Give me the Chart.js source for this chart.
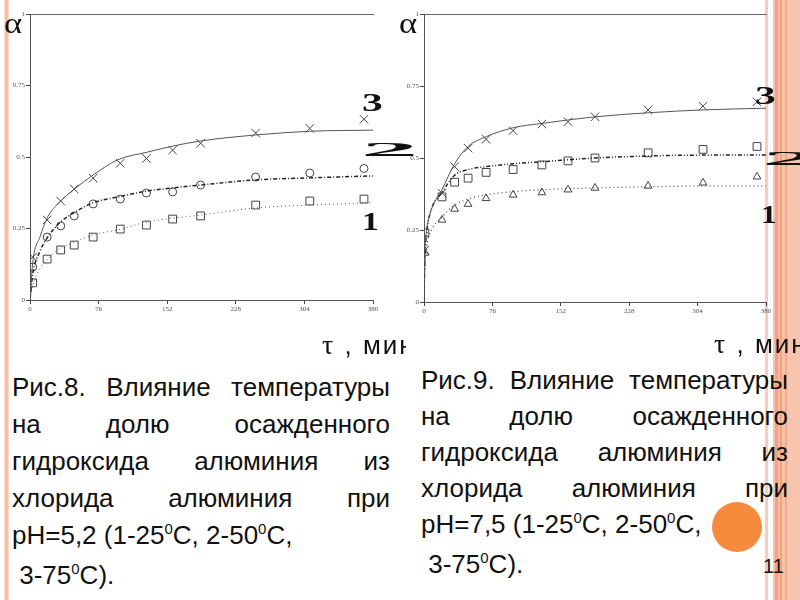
<!DOCTYPE html>
<html>
<head>
<meta charset="utf-8">
<script src="https://cdn.jsdelivr.net/npm/chart.js@4.4.0/dist/chart.umd.min.js"></script>
<style>
body { margin: 0; width: 800px; height: 600px; position: relative; overflow: hidden; background: #fff;
       font-family: "Liberation Sans", Arial, sans-serif; color: #111; }
.abs { position: absolute; }
.stripeL { left: 4px; top: 0; width: 5px; height: 600px;
           background: linear-gradient(to right, #fde2d6, #f5b397 50%, #fde2d6); }
.stripeR { left: 765px; top: 0; width: 35px; height: 600px;
           background: linear-gradient(to right,
             #f9cbb8 0, #f9cbb8 3px, #fff 3px, #fff 8px, #f8c2ab 8px, #f8c2ab 10px,
             #f2a27f 10px, #f2a27f 13px, #f7bba2 13px, #f7bba2 15px, #f2a27f 15px, #f2a27f 17px,
             #f8c2ab 17px, #f8c2ab 20px, #f3a886 20px, #f3a886 22px, #f8c4ad 22px, #f8c4ad 35px); }
.plot { top: 0; width: 400px; height: 330px; }
.alpha { font-family: "Liberation Serif", serif; font-size: 30px; line-height: 30px;
         transform: scaleX(1.15); transform-origin: left top; }
.tau { font-size: 26px; line-height: 26px; letter-spacing: 2px; white-space: nowrap; }
.tau i { font-family: "Liberation Serif", serif; font-style: normal; font-size: 28px; }
.num { font-family: "Liberation Serif", serif; font-weight: bold; font-size: 26px; line-height: 26px;
       transform-origin: left top; }
.cap { font-size: 26px; }
.cap div { white-space: nowrap; }
.cap .j { text-align: justify; text-align-last: justify; white-space: normal; }
.deg { font-size: 15px; position: relative; top: -10px; }
.dot { left: 712px; top: 502px; width: 50px; height: 50px; border-radius: 50%; background: #f68b3d; }
</style>
</head>
<body>
<div class="abs stripeL"></div>
<div class="abs stripeR"></div>

<div class="abs plot" style="left:0"><canvas id="fig8" width="400" height="330"></canvas></div>
<div class="abs plot" style="left:400px"><canvas id="fig9" width="400" height="330"></canvas></div>

<div class="abs alpha" style="left:4px;top:8px">α</div>
<div class="abs alpha" style="left:399px;top:8px">α</div>

<div class="abs" style="left:300px;top:328px;width:106px;height:32px;overflow:hidden">
  <div class="abs tau" style="left:22px;top:4px"><i>τ</i> , мин</div>
</div>
<div class="abs tau" style="left:714px;top:331px"><i>τ</i> , мин</div>

<div class="abs num" style="left:362px;top:90px;transform:scaleX(1.6)">3</div>
<div class="abs num" style="left:361px;top:140px;transform:scaleX(4.4) scaleY(0.75)">2</div>
<div class="abs num" style="left:362px;top:209px;transform:scaleX(1.3)">1</div>
<div class="abs num" style="left:755px;top:83px;transform:scaleX(1.6)">3</div>
<div class="abs" style="left:760px;top:140px;width:40px;height:40px;overflow:hidden">
  <div class="abs num" style="left:2px;top:9px;transform:scaleX(4.4) scaleY(0.75)">2</div>
</div>
<div class="abs num" style="left:761px;top:202px;transform:scaleX(1.2)">1</div>

<div class="abs cap" style="left:12px;top:369px;width:378px;line-height:37px">
  <div class="j">Рис.8. Влияние температуры</div>
  <div class="j">на долю осажденного</div>
  <div class="j">гидроксида алюминия из</div>
  <div class="j">хлорида алюминия при</div>
  <div>pH=5,2 (1-25<span class="deg">0</span>C, 2-50<span class="deg">0</span>C,</div>
  <div>&nbsp;3-75<span class="deg">0</span>C).</div>
</div>

<div class="abs dot"></div>

<div class="abs cap" style="left:421px;top:362px;width:367px;line-height:36px">
  <div class="j">Рис.9. Влияние температуры</div>
  <div class="j">на долю осажденного</div>
  <div class="j">гидроксида алюминия из</div>
  <div class="j">хлорида алюминия при</div>
  <div>pH=7,5 (1-25<span class="deg">0</span>C, 2-50<span class="deg">0</span>C,</div>
  <div>&nbsp;3-75<span class="deg">0</span>C).</div>
</div>

<div class="abs" style="left:763px;top:555px;font-size:20px">11</div>

<script>
// axis ticks
const xTicks = [0, 76, 152, 228, 304, 380];
const yTicks = [0, 0.25, 0.5, 0.75, 1];

// Fig. 8 (pH=5,2): measured points
const fig8Time = [3, 19, 34, 49, 70, 100, 129, 158, 189, 250, 310, 370];
const fig8Pts1 = [0.06, 0.143, 0.175, 0.192, 0.22, 0.248, 0.262, 0.283, 0.294, 0.332, 0.346, 0.353];
const fig8Pts2 = [0.115, 0.22, 0.259, 0.294, 0.336, 0.353, 0.374, 0.378, 0.402, 0.43, 0.444, 0.46];
const fig8Pts3 = [0.15, 0.28, 0.346, 0.388, 0.426, 0.478, 0.495, 0.524, 0.548, 0.584, 0.6, 0.632];
// Fig. 8: fitted curves
const fig8CurveTime = [0, 3, 11, 19, 33, 48, 70, 97, 130, 158, 189, 250, 310, 380];
const fig8Curve1 = [0, 0.05, 0.11, 0.14, 0.18, 0.2, 0.228, 0.245, 0.273, 0.286, 0.297, 0.322, 0.332, 0.34];
const fig8Curve2 = [0, 0.09, 0.17, 0.217, 0.27, 0.304, 0.34, 0.36, 0.381, 0.392, 0.402, 0.42, 0.427, 0.434];
const fig8Curve3 = [0, 0.13, 0.22, 0.287, 0.343, 0.385, 0.437, 0.49, 0.517, 0.538, 0.556, 0.577, 0.59, 0.594];

// Fig. 9 (pH=7,5): measured points
const fig9Time = [1, 20, 34, 49, 69, 99, 131, 160, 190, 249, 310, 370];
const fig9Pts1 = [0.17, 0.285, 0.323, 0.34, 0.36, 0.372, 0.38, 0.39, 0.396, 0.403, 0.414, 0.435];
const fig9Pts2 = [0.24, 0.365, 0.416, 0.43, 0.45, 0.46, 0.476, 0.49, 0.5, 0.518, 0.53, 0.54];
const fig9Pts3 = [0.18, 0.378, 0.47, 0.534, 0.565, 0.595, 0.618, 0.626, 0.643, 0.667, 0.68, 0.695];
// Fig. 9: fitted curves
const fig9CurveTime = [0, 1, 3, 7, 20, 34, 49, 69, 99, 131, 190, 249, 310, 380];
const fig9Curve1 = [0, 0.12, 0.19, 0.24, 0.295, 0.337, 0.357, 0.372, 0.383, 0.39, 0.396, 0.4, 0.403, 0.403];
const fig9Curve2 = [0, 0.15, 0.24, 0.31, 0.38, 0.44, 0.46, 0.47, 0.48, 0.487, 0.5, 0.507, 0.51, 0.51];
const fig9Curve3 = [0, 0.17, 0.25, 0.31, 0.39, 0.48, 0.54, 0.574, 0.605, 0.62, 0.643, 0.657, 0.667, 0.673];

function pairs(xs, ys) {
    return xs.map((x, i) => ({ x: x, y: ys[i] }));
}

function curve(xs, ys, dash, width, color) {
    return {
        data: pairs(xs, ys),
        showLine: true,
        pointRadius: 0,
        borderColor: color,
        borderWidth: width,
        borderDash: dash,
        cubicInterpolationMode: 'monotone',
        fill: false
    };
}

function marks(xs, ys, style, radius) {
    return {
        data: pairs(xs, ys),
        showLine: false,
        pointStyle: style,
        pointRadius: radius,
        pointBorderWidth: 1,
        pointBorderColor: '#444',
        pointBackgroundColor: 'rgba(255,255,255,0)'
    };
}

function tickFont() {
    return { family: 'Liberation Serif', size: 7 };
}

function buildChart(id, datasets, axisWidth, pad) {
    const ctx = document.getElementById(id).getContext('2d');
    return new Chart(ctx, {
        type: 'scatter',
        data: { datasets: datasets },
        options: {
            responsive: false,
            animation: false,
            layout: { padding: pad },
            plugins: { legend: { display: false }, tooltip: { enabled: false } },
            scales: {
                x: {
                    type: 'linear', min: 0, max: 380,
                    afterBuildTicks: s => { s.ticks = xTicks.map(v => ({ value: v })); },
                    afterFit: s => { s.height = 20; },
                    ticks: { font: tickFont(), color: '#555', padding: 1, maxRotation: 0,
                             callback: v => String(v) },
                    grid: { drawOnChartArea: false, tickLength: 4, color: '#444' },
                    border: { color: '#555', width: 1 }
                },
                x2: {
                    type: 'linear', position: 'top', min: 0, max: 380,
                    afterFit: s => { s.height = 0; },
                    ticks: { display: false },
                    grid: { drawOnChartArea: false, drawTicks: false },
                    border: { color: '#666', width: 1 }
                },
                y: {
                    min: 0, max: 1,
                    afterBuildTicks: s => { s.ticks = yTicks.map(v => ({ value: v })); },
                    afterFit: s => { s.width = axisWidth; },
                    ticks: { font: tickFont(), color: '#555', padding: 1,
                             callback: v => String(v) },
                    grid: { drawOnChartArea: false, tickLength: 4, color: '#444' },
                    border: { color: '#555', width: 1 }
                }
            }
        }
    });
}

buildChart('fig8', [
    curve(fig8CurveTime, fig8Curve3, [], 1, '#555'),
    curve(fig8CurveTime, fig8Curve2, [4, 2, 1, 2], 1.5, '#222'),
    curve(fig8CurveTime, fig8Curve1, [1, 3], 1, '#555'),
    marks(fig8Time, fig8Pts3, 'crossRot', 6),
    marks(fig8Time, fig8Pts2, 'circle', 4),
    marks(fig8Time, fig8Pts1, 'rect', 5.5)
], 30, { top: 14, right: 27, bottom: 10, left: 0 });

buildChart('fig9', [
    curve(fig9CurveTime, fig9Curve3, [], 1, '#555'),
    curve(fig9CurveTime, fig9Curve2, [4, 2, 1, 2, 1, 2], 1.5, '#222'),
    curve(fig9CurveTime, fig9Curve1, [1, 3], 1.2, '#444'),
    marks(fig9Time, fig9Pts3, 'crossRot', 6),
    marks(fig9Time, fig9Pts2, 'rect', 5.5),
    marks(fig9Time, fig9Pts1, 'triangle', 4.5)
], 24, { top: 14, right: 34, bottom: 8, left: 0 });
</script>
</body>
</html>
